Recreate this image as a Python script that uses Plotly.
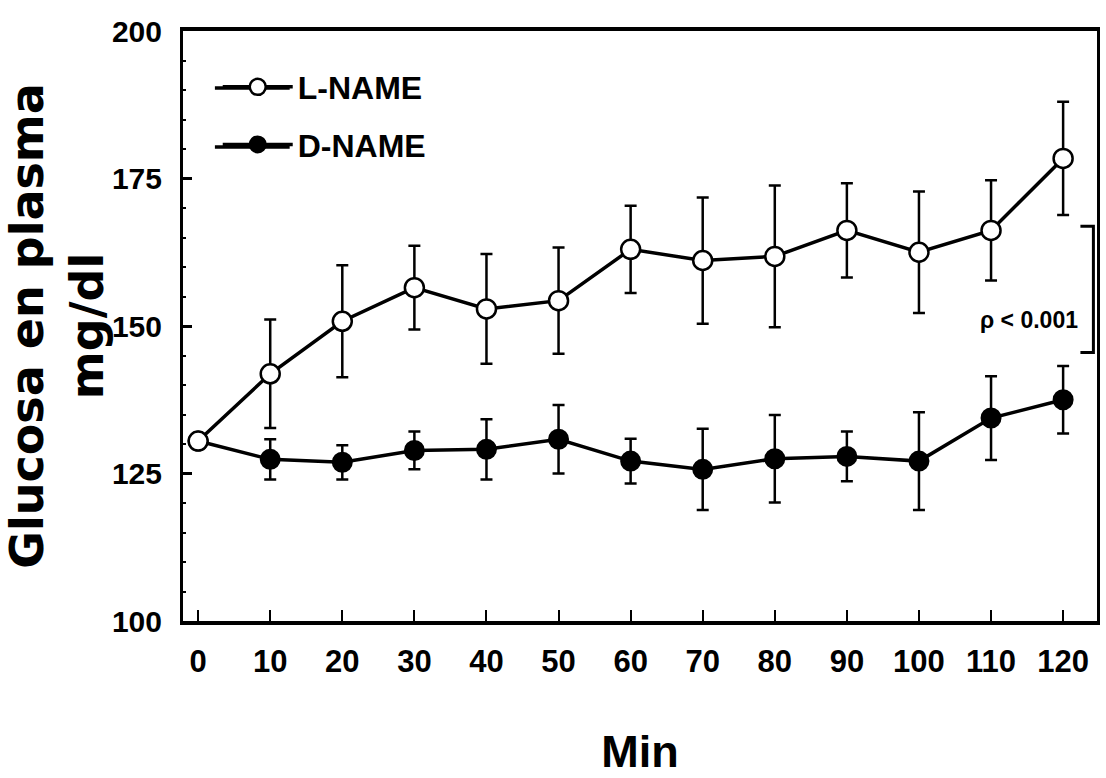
import plotly.graph_objects as go

minutes = [0, 10, 20, 30, 40, 50, 60, 70, 80, 90, 100, 110, 120]
tick_labels = ["0", "10", "20", "30", "40", "50", "60", "70", "80", "90", "100", "110", "120"]
l_name_mean = [130.5, 141.9, 150.8, 156.5, 152.9, 154.3, 163.0, 161.1, 161.8, 166.2, 162.5, 166.2, 178.4]
l_name_err = [0, 9.2, 9.5, 7.1, 9.3, 9.0, 7.4, 10.7, 12.0, 8.0, 10.3, 8.5, 9.6]
d_name_mean = [130.5, 127.4, 126.9, 128.9, 129.1, 130.8, 127.1, 125.7, 127.5, 127.9, 127.1, 134.4, 137.5]
d_name_err = [0, 3.4, 2.9, 3.2, 5.1, 5.8, 3.8, 6.9, 7.4, 4.2, 8.3, 7.1, 5.7]

BOLD = "Liberation Sans, Arial, sans-serif"

fig = go.Figure()

fig.add_trace(go.Scatter(
    x=minutes, y=d_name_mean, name="D-NAME", mode="lines+markers",
    line=dict(color="black", width=3.5),
    marker=dict(symbol="circle", size=19, color="black", line=dict(color="black", width=2)),
    error_y=dict(type="data", array=d_name_err, visible=True, color="black", thickness=2.5, width=6),
    legendgroup="d", legendrank=2,
))
fig.add_trace(go.Scatter(
    x=minutes, y=l_name_mean, name="L-NAME", mode="lines+markers",
    line=dict(color="black", width=3.5),
    marker=dict(symbol="circle", size=19, color="white", line=dict(color="black", width=2.5)),
    error_y=dict(type="data", array=l_name_err, visible=True, color="black", thickness=2.5, width=6),
    legendgroup="l", legendrank=1,
))

# significance bracket and label
fig.add_shape(type="path", xref="x", yref="y",
              path="M 122.4,166.9 L 124.2,166.9 L 124.2,145.5 L 122.4,145.5",
              line=dict(color="black", width=3))
fig.add_annotation(x=115.2, y=151.1, xref="x", yref="y", text="ρ < 0.001", showarrow=False,
                   font=dict(family=BOLD, size=23, color="black", weight="bold"))

# longer legend sample lines (decoration behind legend symbols)
for yy in (0.9034, 0.8034):
    fig.add_shape(type="line", xref="paper", yref="paper", x0=0.0349, x1=0.1167, y0=yy, y1=yy,
                  line=dict(color="black", width=3.5), layer="below")

fig.update_layout(
    width=1106, height=778,
    margin=dict(l=183, r=6, t=31, b=157),
    paper_bgcolor="white", plot_bgcolor="white",
    showlegend=True,
    legend=dict(x=0.038, y=0.9516, xanchor="left", yanchor="top",
                font=dict(family=BOLD, size=32, color="black", weight="bold"),
                bgcolor="rgba(0,0,0,0)", tracegroupgap=13, itemwidth=70),
    xaxis=dict(
        range=[-2.1, 124.7], tickmode="array", tickvals=minutes, ticktext=tick_labels,
        ticks="inside", ticklen=11, tickwidth=1.5, tickcolor="black",
        showline=True, linecolor="black", linewidth=3.5, mirror=True,
        showgrid=False, zeroline=False, ticklabelstandoff=10,
        tickfont=dict(family=BOLD, size=31, color="black", weight="bold"),
        title=dict(text="Min", standoff=59, font=dict(family=BOLD, size=45, color="black", weight="bold")),
    ),
    yaxis=dict(
        range=[100, 200], tickmode="array", tickvals=[100, 125, 150, 175, 200],
        ticks="inside", ticklen=9, tickwidth=2.5, tickcolor="black",
        minor=dict(ticks="inside", dtick=5, ticklen=3, tickwidth=2, tickcolor="black"),
        showline=True, linecolor="black", linewidth=3, mirror=True,
        showgrid=False, zeroline=False, ticklabelstandoff=12,
        tickfont=dict(family=BOLD, size=30, color="black", weight="bold"),
        title=dict(text="Glucosa en plasma<br>mg/dl", standoff=14,
                   font=dict(family="DejaVu Sans, sans-serif", size=46, color="black", weight="bold")),
    ),
)

fig.write_html("out.html")
